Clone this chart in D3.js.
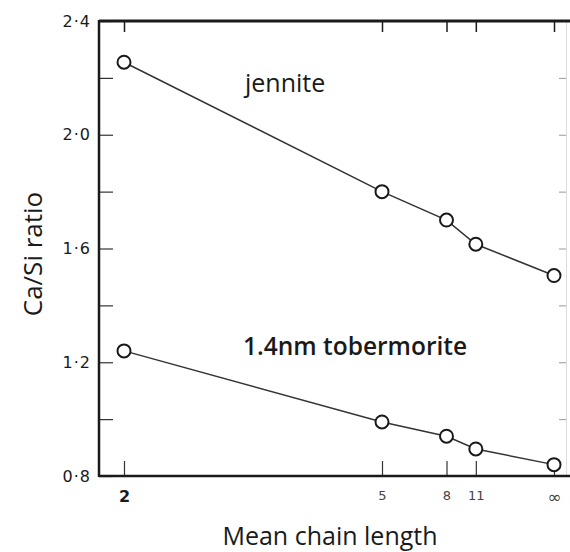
<!DOCTYPE html>
<html>
<head>
<meta charset="utf-8">
<script src="https://cdn.jsdelivr.net/npm/d3@7"></script>
<style>
  body { margin: 0; background: #fff; }
  svg { display: block; }
</style>
</head>
<body>
<div id="chart"></div>
<script>
// data
var chainLength = [2, 5, 8, 11, Infinity];
var xTickLabels = ["2", "5", "8", "11", "\u221e"];
var jenniteRatio = [2.255, 1.80, 1.70, 1.615, 1.505];
var tobermoriteRatio = [1.24, 0.99, 0.94, 0.895, 0.84];
var yTickValues = [0.8, 1.0, 1.2, 1.4, 1.6, 1.8, 2.0, 2.2, 2.4];
var yTickLabels = ["0\u00b78", "", "1\u00b72", "", "1\u00b76", "", "2\u00b70", "", "2\u00b74"];
var seriesNames = ["jennite", "1.4nm tobermorite"];

var width = 570,
    height = 552;
var plotLeft = 99, plotRight = 566, plotTop = 21, plotBottom = 476;

var svg = d3.select("#chart")
    .append("svg")
    .attr("width", width)
    .attr("height", height);

// x is linear in 1/n, so infinite chains sit at 0
var x = d3.scaleLinear().domain([0.5, 0]).range([124, 554]);
var y = d3.scaleLinear().domain([0.8, 2.4]).range([plotBottom, plotTop]);
var inv = function (n) { return 1 / n; };

var ink = "#1a1a1a";

// faint right-hand axis
var rightAxis = svg.append("g")
    .attr("transform", "translate(" + plotRight + ",0)")
    .call(d3.axisRight(y).tickValues([1.0, 1.2, 1.4, 1.6, 1.8, 2.0, 2.2]).tickSize(-7).tickFormat(""));
rightAxis.select(".domain").attr("stroke", "#ddd").attr("stroke-width", 1);
rightAxis.selectAll(".tick line").attr("stroke", "#999");

// top axis with downward ticks
var topAxis = svg.append("g")
    .attr("transform", "translate(0," + plotTop + ")")
    .call(d3.axisTop(x).tickValues(chainLength.map(inv)).tickSize(-11).tickFormat(""));
topAxis.select(".domain").remove();
topAxis.selectAll(".tick line").attr("stroke", ink).attr("stroke-width", 1.5);

// bottom axis, ticks pointing up
var xAxis = svg.append("g")
    .attr("transform", "translate(0," + plotBottom + ")")
    .call(d3.axisBottom(x)
        .tickValues(chainLength.map(inv))
        .tickSize(-15)
        .tickPadding(15)
        .tickFormat(function (d, i) { return xTickLabels[i]; }));
xAxis.select(".domain").remove();
xAxis.selectAll(".tick line").attr("stroke", "#333").attr("stroke-width", 1.2);
xAxis.selectAll(".tick text")
    .attr("fill", "#444")
    .style("font-family", "DejaVu Sans")
    .style("font-size", "13px");
xAxis.selectAll(".tick text").filter(function (d, i) { return i == 0; })
    .attr("fill", ink)
    .style("font-size", "16px")
    .style("font-weight", "bold");
xAxis.selectAll(".tick text").filter(function (d, i) { return i == 4; })
    .style("font-size", "17px");

// left axis, ticks pointing in
var yAxis = svg.append("g")
    .attr("transform", "translate(" + plotLeft + ",0)")
    .call(d3.axisLeft(y)
        .tickValues(yTickValues)
        .tickSize(-14)
        .tickPadding(8)
        .tickFormat(function (d, i) { return yTickLabels[i]; }));
yAxis.select(".domain").remove();
yAxis.selectAll(".tick line").attr("stroke", "#333").attr("stroke-width", 1.2);
yAxis.selectAll(".tick text")
    .attr("fill", ink)
    .style("font-family", "DejaVu Sans")
    .style("font-size", "16px")
    .style("letter-spacing", "1px");

// frame lines
svg.append("line").attr("x1", plotLeft).attr("x2", plotLeft).attr("y1", plotTop - 1).attr("y2", plotBottom + 1)
    .attr("stroke", ink).attr("stroke-width", 2.5);
svg.append("line").attr("x1", plotLeft).attr("x2", width).attr("y1", plotTop).attr("y2", plotTop)
    .attr("stroke", ink).attr("stroke-width", 3);
svg.append("line").attr("x1", plotLeft).attr("x2", width).attr("y1", plotBottom).attr("y2", plotBottom)
    .attr("stroke", ink).attr("stroke-width", 2.5);

// series
var series = [jenniteRatio, tobermoriteRatio];
var line = d3.line()
    .x(function (d, i) { return x(inv(chainLength[i])); })
    .y(function (d) { return y(d); });

series.forEach(function (vals) {
    svg.append("path")
        .datum(vals)
        .attr("d", line)
        .attr("fill", "none")
        .attr("stroke", "#333")
        .attr("stroke-width", 1.5);
    svg.selectAll(null)
        .data(vals)
        .enter()
        .append("circle")
        .attr("cx", function (d, i) { return x(inv(chainLength[i])); })
        .attr("cy", function (d) { return y(d); })
        .attr("r", 6.5)
        .attr("fill", "#fff")
        .attr("stroke", ink)
        .attr("stroke-width", 2);
});

// series labels
svg.append("text").text(seriesNames[0])
    .attr("x", 245).attr("y", 92)
    .style("font-family", "Open Sans").style("font-size", "25px").attr("fill", ink);
svg.append("text").text(seriesNames[1])
    .attr("x", 243).attr("y", 355)
    .style("font-family", "Open Sans").style("font-size", "24.5px").style("font-weight", "600").attr("fill", ink);

// axis titles
svg.append("text").text("Mean chain length")
    .attr("x", 330).attr("y", 545)
    .attr("text-anchor", "middle")
    .style("font-family", "Open Sans").style("font-size", "25px").attr("fill", ink);
svg.append("text").text("Ca/Si ratio")
    .attr("transform", "translate(42,254) rotate(-90)")
    .attr("text-anchor", "middle")
    .style("font-family", "Open Sans").style("font-size", "26px").attr("fill", ink);
</script>
</body>
</html>
